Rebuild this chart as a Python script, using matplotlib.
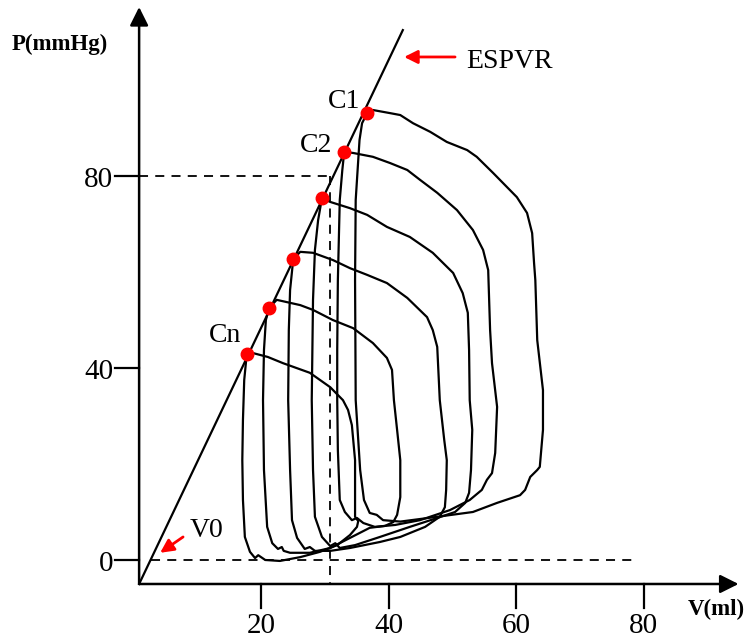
import matplotlib.pyplot as plt

plt.rcParams['font.family'] = ['Liberation Serif', 'DejaVu Serif']

# end-systolic points (red dots), V in ml, P in mmHg
es_v = [36.6, 33.0, 29.5, 25.0, 21.2, 17.7]
es_p = [93.1, 85.0, 75.4, 62.7, 52.5, 42.9]

# pressure-volume loops, traced from the end-systolic corner
loop1_v = [36.6, 37.5, 40.2, 41.8, 43.8, 46.5, 49.1, 52.3, 53.8, 56.4, 60.1, 61.7, 62.5, 62.8,
           63.0, 63.3, 64.2, 64.2, 63.7, 63.3, 62.2, 61.4, 60.6, 57.0, 53.2, 47.6, 41.8, 39.1,
           38.1, 37.0, 36.1, 35.5, 34.8, 34.7, 34.8, 35.4, 35.8, 36.6]
loop1_p = [93.1, 93.75, 93.1, 92.7, 91.0, 89.2, 87.1, 85.4, 84.0, 80.6, 75.6, 72.3, 68.1, 61.9,
           58.3, 45.8, 35.4, 27.1, 19.4, 18.75, 17.3, 14.6, 13.5, 11.9, 10.0, 9.0, 8.0, 8.3,
           9.4, 9.8, 12.5, 18.75, 33.3, 58.3, 75.0, 87.5, 91.0, 93.1]

loop2_v = [33.0, 34.4, 37.5, 40.2, 42.9, 44.9, 47.6, 50.7, 53.2, 54.8, 55.6, 55.9, 56.2, 57.0,
           56.7, 56.2, 55.4, 54.6, 52.7, 49.6, 44.9, 41.0, 37.8, 36.0, 35.0, 34.2, 33.1, 32.3,
           32.0, 31.9, 31.9, 32.0, 32.3, 32.7, 33.0]
loop2_p = [85.0, 84.8, 84.0, 82.7, 81.25, 79.2, 76.5, 72.9, 68.75, 64.6, 60.4, 47.9, 41.0, 31.9,
           22.3, 18.1, 16.7, 14.6, 12.5, 10.4, 8.3, 7.3, 6.9, 7.7, 8.75, 8.3, 10.0, 12.5,
           22.9, 33.3, 43.75, 58.3, 75.0, 81.25, 85.0]

loop3_v = [29.5, 30.8, 33.9, 36.6, 39.7, 43.3, 46.9, 50.1, 51.6, 52.4, 52.6, 52.7, 53.1, 52.9,
           52.6, 52.0, 50.4, 47.6, 43.3, 38.6, 34.7, 32.3, 31.6, 30.8, 29.5, 28.4, 28.1, 27.9,
           28.1, 28.4, 28.9, 29.5]
loop3_p = [75.4, 74.6, 73.3, 71.9, 69.4, 67.3, 64.0, 59.8, 55.6, 51.5, 43.75, 33.3, 27.1, 18.75,
           14.0, 11.9, 10.0, 8.75, 6.9, 4.8, 3.1, 2.5, 3.5, 2.9, 4.8, 9.0, 18.75, 33.3,
           54.2, 64.6, 70.8, 75.4]

loop4_v = [25.0, 26.1, 28.1, 31.2, 33.9, 36.6, 39.7, 42.9, 46.0, 46.9, 47.6, 48.0, 48.7, 49.1,
           49.0, 48.8, 48.0, 45.7, 41.8, 38.6, 33.9, 30.8, 28.4, 27.6, 26.8, 25.6, 24.8, 24.5,
           24.2, 24.3, 24.5, 25.0]
loop4_p = [62.7, 64.2, 64.0, 62.5, 60.8, 59.4, 57.7, 54.6, 50.6, 47.9, 44.4, 33.3, 25.0, 20.8,
           14.6, 11.0, 9.0, 6.9, 4.8, 3.75, 2.5, 1.9, 1.9, 2.7, 2.3, 4.6, 8.3, 18.75,
           33.3, 47.9, 56.25, 62.7]

loop5_v = [21.2, 22.4, 26.1, 28.1, 31.2, 34.4, 37.5, 39.7, 40.5, 40.8, 41.3, 41.8, 41.8, 41.3,
           40.7, 39.4, 37.0, 33.9, 30.8, 27.6, 24.5, 23.5, 23.2, 22.6, 21.7, 20.9, 20.4, 20.25,
           20.4, 20.7, 21.2]
loop5_p = [52.5, 54.2, 53.1, 52.1, 50.0, 48.3, 45.2, 42.1, 39.6, 33.3, 27.1, 20.8, 13.1, 9.4,
           7.9, 7.1, 6.7, 4.6, 2.5, 1.5, 1.5, 1.9, 2.7, 2.3, 3.5, 6.9, 18.75, 33.3,
           43.75, 50.0, 52.5]

loop6_v = [17.7, 18.7, 21.0, 23.4, 27.6, 30.8, 32.8, 33.6, 34.2, 34.7, 34.7, 35.2, 35.0, 33.9,
           31.9, 29.2, 26.1, 22.9, 20.6, 19.5, 19.0, 18.2, 17.4, 17.1, 17.0, 17.1, 17.3, 17.7]
loop6_p = [42.9, 43.1, 42.3, 41.0, 39.0, 36.0, 33.3, 31.25, 28.1, 20.8, 9.0, 8.1, 6.9, 5.2,
           3.1, 1.7, 0.6, -0.2, 0.0, 1.0, 0.4, 1.7, 4.8, 12.5, 20.8, 29.2, 37.5, 42.9]

loops = [(loop1_v, loop1_p), (loop2_v, loop2_p), (loop3_v, loop3_p),
         (loop4_v, loop4_p), (loop5_v, loop5_p), (loop6_v, loop6_p)]

# ESPVR line end points and reference values
espvr_v = [0.8, 42.2]
espvr_p = [-5.0, 110.4]
v0 = 2.6
ref_v = 30.8
ref_p = 80

x_ticks = [20, 40, 60, 80]
y_ticks = [0, 40, 80]
axis_v = 0.8     # where the axes cross
axis_p = -5.0

fig = plt.figure(figsize=(7.47, 6.4), dpi=100)
ax = fig.add_axes([0, 0, 1, 1])
ax.set_xlim(-21.04, 96.23)
ax.set_ylim(-16.67, 116.67)
ax.axis('off')

# axes with arrow heads
arrow = dict(arrowstyle='-|>', color='black', lw=1.8, mutation_scale=28, shrinkA=0, shrinkB=0)
ax.annotate('', xy=(axis_v, 115.2), xytext=(axis_v, axis_p), arrowprops=arrow)
ax.annotate('', xy=(94.9, axis_p), xytext=(axis_v, axis_p), arrowprops=arrow)

for t in x_ticks:
    ax.plot([t, t], [axis_p, -10.0], color='black', lw=1.6)
    ax.text(t, -15.2, str(t), ha='center', va='baseline', fontsize=21)
for t in y_ticks:
    ax.plot([-3.0, axis_v], [t, t], color='black', lw=1.6)
    ax.text(-3.3, t - 2.2, str(t), ha='right', va='baseline', fontsize=21)

ax.text(-19.15, 106.25, 'P(mmHg)', fontsize=16.5, fontweight='bold', va='baseline')
ax.text(86.97, -11.5, 'V(ml)', fontsize=16.5, fontweight='bold', va='baseline')

# dashed reference lines
dash = dict(color='black', lw=1.3, ls=(0, (5, 4)))
ax.plot([axis_v, ref_v], [ref_p, ref_p], **dash)
ax.plot([ref_v, ref_v], [ref_p, axis_p], **dash)
ax.plot([v0, 78.7], [0, 0], **dash)

# ESPVR line
ax.plot(espvr_v, espvr_p, color='black', lw=1.6)

for lv, lp in loops:
    ax.plot(lv, lp, color='black', lw=1.6, solid_joinstyle='round')

ax.plot(es_v, es_p, 'o', color='red', ms=9, zorder=5)

ax.text(30.4, 94.2, 'C1', fontsize=20, va='baseline')
ax.text(26.1, 85.0, 'C2', fontsize=20, va='baseline')
ax.text(11.8, 45.4, 'Cn', fontsize=20, va='baseline')
ax.text(8.8, 4.8, 'V0', fontsize=20, va='baseline')
ax.text(52.1, 102.5, 'ESPVR', fontsize=20, va='baseline')

red_arrow = dict(arrowstyle='-|>', color='red', lw=2, mutation_scale=20, shrinkA=0, shrinkB=0)
ax.annotate('', xy=(42.4, 104.8), xytext=(50.4, 104.8), arrowprops=red_arrow)
ax.annotate('', xy=(4.1, 1.5), xytext=(7.7, 4.8), arrowprops=red_arrow)

fig.savefig('out.png', dpi=100)
